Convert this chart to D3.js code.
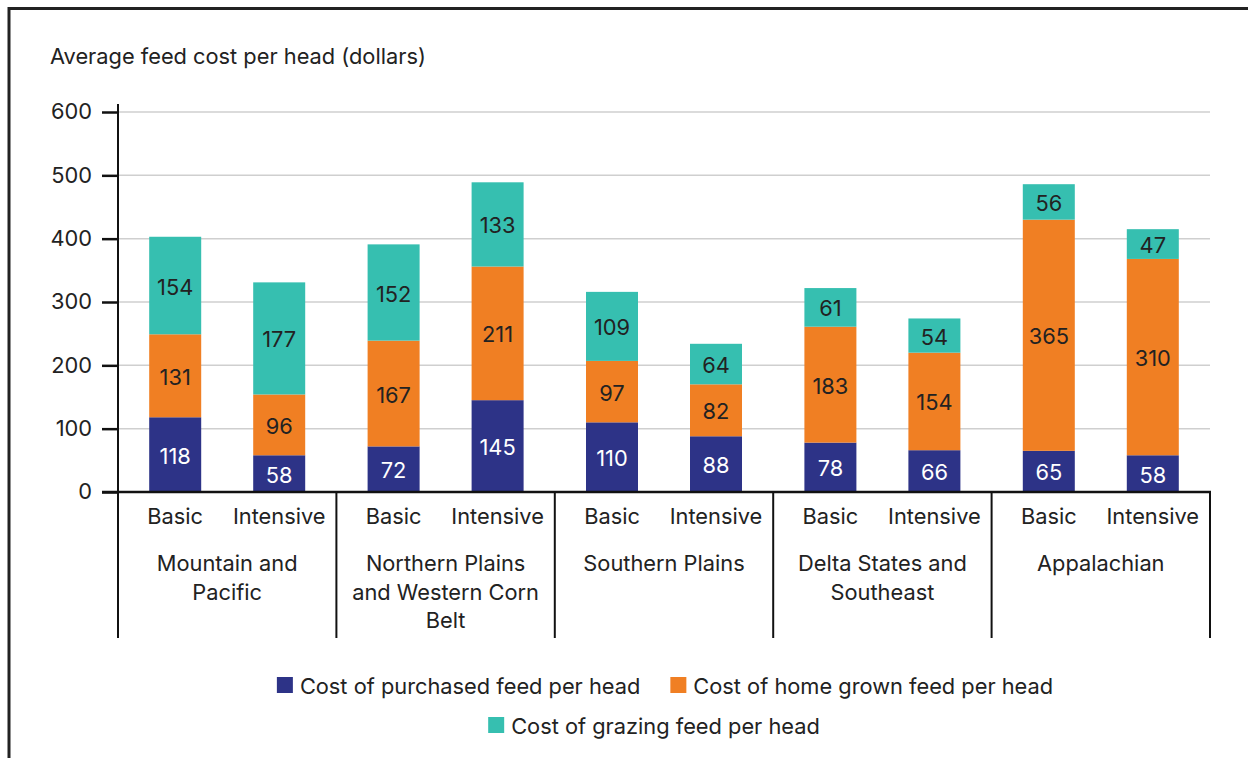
<!DOCTYPE html>
<html>
<head>
<meta charset="utf-8">
<script src="https://cdn.jsdelivr.net/npm/d3@7"></script>
<style>
  html, body { margin: 0; padding: 0; background: #fff; }
  svg { display: block; font-family: Inter, "Noto Sans", sans-serif; }
</style>
</head>
<body>
<svg id="chart" width="1253" height="758"></svg>
<script>
const categories = ["Mountain and\nPacific", "Northern Plains\nand Western Corn\nBelt", "Southern Plains", "Delta States and\nSoutheast", "Appalachian"];
const systems = ["Basic", "Intensive"];
const purchased = [[118, 58], [72, 145], [110, 88], [78, 66], [65, 58]];
const homeGrown = [[131, 96], [167, 211], [97, 82], [183, 154], [365, 310]];
const grazing = [[154, 177], [152, 133], [109, 64], [61, 54], [56, 47]];
const seriesNames = ["Cost of purchased feed per head", "Cost of home grown feed per head", "Cost of grazing feed per head"];
const seriesColors = ["#2d3387", "#f07f23", "#36bfb0"];
const labelColors = ["#ffffff", "#222222", "#222222"];
const yTicks = [0, 100, 200, 300, 400, 500, 600];
const yTitle = "Average feed cost per head (dollars)";

const svg = d3.select("#chart");
const txt = "#222";
const fs = 21.8;

// frame
svg.append("line").attr("x1", 8).attr("x2", 1248).attr("y1", 8.5).attr("y2", 8.5).attr("stroke", "#222").attr("stroke-width", 3);
svg.append("line").attr("x1", 9).attr("x2", 9).attr("y1", 7).attr("y2", 758).attr("stroke", "#222").attr("stroke-width", 3);

const left = 118, right = 1210, y0 = 492, yTop = 112, sepBottom = 638;
const y = d3.scaleLinear().domain([0, 600]).range([y0, yTop]);
const xGroup = d3.scaleBand().domain(d3.range(categories.length)).range([left, right]).padding(0);
const xSub = d3.scaleBand().domain(systems).range([0, xGroup.bandwidth()]).paddingInner(0.5).paddingOuter(0.3);

// title
svg.append("text").attr("x", 50).attr("y", 64).attr("font-size", fs).attr("fill", txt).text(yTitle);

// gridlines
svg.append("g").selectAll("line").data(yTicks.filter(d => d > 0)).join("line")
  .attr("x1", left).attr("x2", right).attr("y1", d => y(d)).attr("y2", d => y(d))
  .attr("stroke", "#cfcfcf").attr("stroke-width", 1.5);

// stacked bars
const stackSeries = [purchased, homeGrown, grazing];
const barsG = svg.append("g");
const labelsG = svg.append("g");
categories.forEach((c, gi) => {
  systems.forEach((s, si) => {
    let base = 0;
    stackSeries.forEach((ser, k) => {
      const v = ser[gi][si];
      const x = xGroup(gi) + xSub(s);
      barsG.append("rect").attr("x", x).attr("width", xSub.bandwidth())
        .attr("y", y(base + v)).attr("height", y(base) - y(base + v)).attr("fill", seriesColors[k]);
      labelsG.append("text").attr("x", x + xSub.bandwidth() / 2).attr("y", (y(base) + y(base + v)) / 2 + 1)
        .attr("text-anchor", "middle").attr("dominant-baseline", "central")
        .attr("font-size", fs).attr("fill", labelColors[k]).text(v);
      base += v;
    });
  });
});

// y axis
const yAxis = d3.axisLeft(y).tickValues(yTicks).tickSize(16).tickPadding(10).tickFormat(d3.format("d"));
const yg = svg.append("g").attr("transform", `translate(${left},0)`).call(yAxis);
yg.select(".domain").remove();
yg.selectAll(".tick line").attr("stroke", "#111").attr("stroke-width", 2.5);
yg.selectAll(".tick text").attr("font-size", fs).attr("fill", txt).attr("font-family", "Inter, 'Noto Sans', sans-serif");
svg.append("line").attr("x1", left).attr("x2", left).attr("y1", y(600) - 8).attr("y2", sepBottom).attr("stroke", "#111").attr("stroke-width", 2);

// x axis baseline
svg.append("line").attr("x1", left - 16).attr("x2", right + 1).attr("y1", y0).attr("y2", y0).attr("stroke", "#111").attr("stroke-width", 2.5);

// separators
svg.append("g").selectAll("line").data(d3.range(1, categories.length + 1)).join("line")
  .attr("x1", d => left + d * xGroup.bandwidth()).attr("x2", d => left + d * xGroup.bandwidth())
  .attr("y1", y0).attr("y2", sepBottom).attr("stroke", "#111").attr("stroke-width", 2);

// sub labels
categories.forEach((c, gi) => {
  systems.forEach(s => {
    svg.append("text").attr("x", xGroup(gi) + xSub(s) + xSub.bandwidth() / 2).attr("y", 524)
      .attr("text-anchor", "middle").attr("font-size", fs).attr("fill", txt).text(s);
  });
  const lines = c.split("\n");
  const t = svg.append("text").attr("text-anchor", "middle").attr("font-size", fs).attr("fill", txt);
  lines.forEach((ln, i) => {
    t.append("tspan").attr("x", xGroup(gi) + xGroup.bandwidth() / 2).attr("y", 571 + i * 28.5).text(ln);
  });
});

// legend
const legendRows = [[0, 1], [2]];
const legendCenters = [665, 654];
legendRows.forEach((row, ri) => {
  const g = svg.append("g");
  let cx = 0;
  row.forEach(k => {
    const item = g.append("g").attr("transform", `translate(${cx},0)`);
    item.append("rect").attr("x", 0).attr("y", -8).attr("width", 16).attr("height", 16).attr("fill", seriesColors[k]);
    const tt = item.append("text").attr("x", 23).attr("y", 1).attr("dominant-baseline", "central")
      .attr("font-size", fs).attr("fill", txt).text(seriesNames[k]);
    cx += 23 + tt.node().getComputedTextLength() + 30;
  });
  const w = cx - 30;
  g.attr("transform", `translate(${legendCenters[ri] - w / 2},${685 + ri * 40})`);
});
</script>
</body>
</html>
